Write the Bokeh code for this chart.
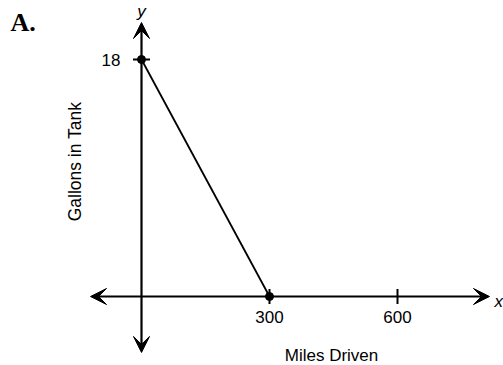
import math
from bokeh.plotting import figure
from bokeh.models import Range1d, Arrow, VeeHead, Label
from bokeh.core.properties import value
from bokeh.embed import file_html
from bokeh.resources import INLINE

# ---- data ----
line_x = [0, 300]
line_y = [18, 0]
x_ticks = [300, 600]
x_tick_labels = ["300", "600"]
y_ticks = [18]
y_tick_labels = ["18"]
x_title = "Miles Driven"
y_title = "Gallons in Tank"
panel_label = "A."

# ---- figure ----
W, H = 503, 365
x_start, x_end = -330.47, 848.44
y_start, y_end = -5.2405, 22.481

p = figure(width=W, height=H, output_backend="svg", toolbar_location=None,
           x_range=Range1d(x_start, x_end), y_range=Range1d(y_start, y_end),
           x_axis_location=None, y_axis_location=None, min_border=0)
p.grid.visible = False
p.outline_line_color = None
p.background_fill_color = "white"
p.border_fill_color = "white"

FONT = "Liberation Sans"

# axes with arrowheads
p.add_layout(Arrow(x_start=-119.5, y_start=0, x_end=815.6, y_end=0,
                   start=VeeHead(size=16, fill_color="black", line_color="black"),
                   end=VeeHead(size=16, fill_color="black", line_color="black"),
                   line_width=2.2, line_color="black"))
p.add_layout(Arrow(x_start=0, y_start=-4.25, x_end=0, y_end=20.81,
                   start=VeeHead(size=16, fill_color="black", line_color="black"),
                   end=VeeHead(size=16, fill_color="black", line_color="black"),
                   line_width=2.2, line_color="black"))

# tick marks
p.scatter(x=x_ticks, y=[0] * len(x_ticks), marker="dash", size=15, angle=math.pi / 2,
          line_color="black", line_width=2)
p.scatter(x=[0] * len(y_ticks), y=y_ticks, marker="dash", size=17,
          line_color="black", line_width=2)

# tick labels
p.text(x=x_ticks, y=[0] * len(x_ticks), text=x_tick_labels, text_align="center",
       text_baseline="alphabetic", y_offset=20, text_font=value(FONT),
       text_font_size="17px", text_color="black")
p.text(x=[0] * len(y_ticks), y=y_ticks, text=y_tick_labels, text_align="right",
       text_baseline="alphabetic", x_offset=-21, y_offset=1, text_font=value(FONT),
       text_font_size="17px", text_color="black")

# data line and points
p.line(x=line_x, y=line_y, line_color="black", line_width=1.8)
p.scatter(x=line_x, y=line_y, marker="circle", size=8, fill_color="black", line_color="black")

# titles
p.add_layout(Label(x=331, y=10, x_units="screen", y_units="screen", text=x_title,
                   text_align="center", text_baseline="alphabetic",
                   text_font=FONT, text_font_size="17px", text_color="black"))
p.add_layout(Label(x=74, y=204, x_units="screen", y_units="screen", text=y_title,
                   angle=math.pi / 2, text_align="center", text_baseline="alphabetic",
                   text_font=FONT, text_font_size="17.5px", text_color="black"))
p.add_layout(Label(x=141, y=354, x_units="screen", y_units="screen", text="y",
                   text_align="center", text_baseline="alphabetic",
                   text_font=FONT, text_font_style="italic", text_font_size="17px",
                   text_color="black"))
p.add_layout(Label(x=494, y=64, x_units="screen", y_units="screen", text="x",
                   text_align="left", text_baseline="alphabetic",
                   text_font=FONT, text_font_style="italic", text_font_size="17px",
                   text_color="black"))
p.add_layout(Label(x=10, y=343, x_units="screen", y_units="screen", text=panel_label,
                   text_align="left", text_baseline="alphabetic",
                   text_font="Liberation Serif", text_font_style="bold",
                   text_font_size="26px", text_color="black"))

open("out.html", "w").write(file_html(p, INLINE))
